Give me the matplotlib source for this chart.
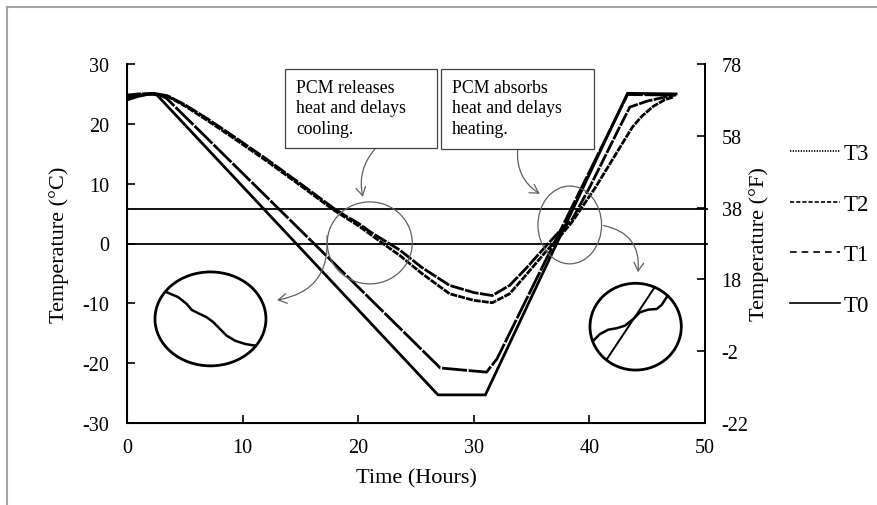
import matplotlib.pyplot as plt
from matplotlib.patches import Ellipse, Rectangle
from matplotlib.lines import Line2D

plt.rcParams['font.family'] = ['Liberation Serif', 'DejaVu Serif']
plt.rcParams['axes.unicode_minus'] = False

# ---- data ----
t0_time = [0, 1, 2.0, 2.6, 26.9, 31.0, 43.3, 47.5]
t0_temp = [24.0, 24.6, 25.0, 24.8, -25.3, -25.3, 25.1, 25.0]

t1_time = [0, 1.5, 2.6, 3.4, 27.1, 31.1, 32.0, 43.3, 47.5]
t1_temp = [24.6, 24.9, 25.0, 24.3, -20.8, -21.5, -19.3, 24.9, 24.8]

t2_time = [0, 1, 2.3, 3.5, 5, 7, 9, 12, 15, 17.8, 19, 20, 21, 22.5, 23.6,
           25.5, 27.9, 30, 31.6, 33.1, 34.5, 36.3, 37.3, 38.5, 40.0, 42.6,
           43.5, 45, 47.3]
t2_temp = [24.8, 25.0, 25.1, 24.7, 23.2, 20.8, 18.2, 14.2, 10.0, 6.0, 4.5,
           3.4, 2.0, 0.2, -1.1, -4.0, -7.0, -8.2, -8.7, -7.0, -4.2, -0.3,
           1.8, 4.0, 9.3, 19.4, 22.8, 23.8, 24.8]

t3_time = [0, 1, 2.3, 3.5, 5, 7, 9, 12, 15, 17.8, 19, 20, 21, 22.5, 23.6,
           25.5, 27.9, 30, 31.6, 33.1, 34.5, 36.3, 37.5, 38.5, 40.5, 43.7,
           44.5, 45.5, 46.5, 47.3]
t3_temp = [24.3, 24.8, 25.0, 24.6, 23.0, 20.5, 17.9, 13.9, 9.7, 5.7, 4.2,
           3.0, 1.6, -0.5, -2.0, -5.0, -8.4, -9.5, -9.9, -8.4, -5.3, -1.2,
           1.3, 3.6, 9.3, 19.4, 21.2, 22.9, 24.0, 24.5]

series_names = ['T0', 'T1', 'T2', 'T3']
series_styles = ['-', (0, (9, 0.6)), (0, (5, 0.5)), (0, (2.5, 0.4))]
legend_styles = ['-', (0, (4, 3)), (0, (2.5, 1.2)), (0, (0.8, 0.8))]

ref_lines = [0.0, 5.7]   # 0 degC and PCM melting level

x_ticks = [0, 10, 20, 30, 40, 50]
c_ticks = [-30, -20, -10, 0, 10, 20, 30]
f_ticks = [-22, -2, 18, 38, 58, 78]

FS = 14.5
LFS = 16

fig = plt.figure(figsize=(8.78, 5.06), dpi=100)
ax = fig.add_axes([127 / 878, 1 - 424 / 506, 578 / 878, 359 / 506])

data = [(t0_time, t0_temp), (t1_time, t1_temp), (t2_time, t2_temp), (t3_time, t3_temp)]
for (tt, vv), ls in zip(data, series_styles):
    ax.plot(tt, vv, color='black', lw=2.0, linestyle=ls, solid_joinstyle='miter')

for y in ref_lines:
    ax.axhline(y, xmin=0, xmax=1.004, color='black', lw=1.3, clip_on=False)

ax.set_xlim(0, 50)
ax.set_ylim(-30, 30)
ax.set_xticks(x_ticks)
ax.set_yticks(c_ticks)
ax.spines['top'].set_visible(False)
for s in ['left', 'bottom', 'right']:
    ax.spines[s].set_linewidth(1.4)
ax.tick_params(direction='in', length=6, width=1.2, labelsize=FS)
ax.tick_params(axis='y', pad=13)
ax.tick_params(axis='x', pad=11)
ax.set_xlabel('Time (Hours)', fontsize=LFS)
ax.set_ylabel('Temperature (°C)', fontsize=LFS)
ax.xaxis.set_label_coords(0.5, -0.125)
ax.yaxis.set_label_coords(-0.10, 0.5)

ax2 = ax.twinx()
ax2.set_ylim(-22, 78)
ax2.set_yticks(f_ticks)
ax2.spines['top'].set_visible(False)
ax2.spines['right'].set_linewidth(1.4)
ax2.tick_params(direction='in', length=6, width=1.2, labelsize=FS, pad=12)
ax2.set_ylabel('Temperature (°F)', fontsize=LFS)
ax2.yaxis.set_label_coords(1.077, 0.5)

# ---- callouts ----
gray = '#606060'
ax.add_patch(Ellipse((21.0, 0.1), 7.35, 13.7, fill=False, ec=gray, lw=0.9, zorder=5))
ax.add_patch(Ellipse((38.3, 3.1), 5.5, 13.0, fill=False, ec=gray, lw=0.9, zorder=5))

# magnified insets
ax.add_patch(Ellipse((7.22, -12.6), 9.6, 15.7, fill=False, ec='black', lw=2.0, zorder=5))
ax.add_patch(Ellipse((44.0, -13.9), 7.9, 14.5, fill=False, ec='black', lw=2.0, zorder=5))
left_zoom_t = [3.43, 4.44, 5.16, 5.60, 6.17, 6.89, 7.47, 8.04, 8.62, 9.34, 10.21, 11.07]
left_zoom_v = [-8.14, -8.98, -10.10, -11.10, -11.66, -12.32, -13.16, -14.28, -15.40,
               -16.24, -16.79, -17.07]
ax.plot(left_zoom_t, left_zoom_v, color='black', lw=1.8, zorder=5)
right_zoom_t = [40.34, 40.92, 41.64, 42.36, 43.08, 43.80, 44.38, 45.10, 45.82, 46.25, 46.68]
right_zoom_v = [-16.24, -15.12, -14.40, -14.16, -13.73, -12.61, -11.49, -11.05, -10.94,
                -10.27, -8.98]
ax.plot(right_zoom_t, right_zoom_v, color='black', lw=1.8, zorder=5)
ax.plot([41.52, 45.67], [-19.3, -7.25], color='black', lw=1.4, zorder=5)

arrow = dict(arrowstyle='->,head_length=0.6,head_width=0.35', color=gray, lw=0.9,
             shrinkA=0, shrinkB=0)
ax.annotate('', xy=(12.98, -9.47), xytext=(17.3, 1.27),
            arrowprops=dict(arrow, connectionstyle='arc3,rad=-0.45'))
ax.annotate('', xy=(44.2, -4.8), xytext=(41.2, 3.0),
            arrowprops=dict(arrow, connectionstyle='arc3,rad=-0.45'))
ax.annotate('', xy=(20.4, 7.8), xytext=(21.45, 15.8),
            arrowprops=dict(arrow, connectionstyle='arc3,rad=0.25'))
ax.annotate('', xy=(35.7, 8.3), xytext=(33.8, 15.8),
            arrowprops=dict(arrow, connectionstyle='arc3,rad=0.3'))

# text boxes
for x0, y0, w, h, txt in [(285, 70, 152, 79, 'PCM releases\nheat and delays\ncooling.'),
                          (441, 70, 153, 80, 'PCM absorbs\nheat and delays\nheating.')]:
    fig.add_artist(Rectangle((x0 / 878, 1 - (y0 + h) / 506), w / 878, h / 506,
                             transform=fig.transFigure, fc='white', ec='#404040',
                             lw=0.9, zorder=10))
    fig.text((x0 + 11) / 878, 1 - (y0 + 10) / 506, txt, fontsize=12.8, va='top',
             ha='left', linespacing=1.25, zorder=11)

# legend
handles = [Line2D([], [], color='black', lw=1.2, linestyle=ls) for ls in legend_styles]
fig.legend(handles[::-1], series_names[::-1], loc='upper left',
           bbox_to_anchor=(790 / 878, 1 - 144 / 506), frameon=False, fontsize=16.5,
           borderpad=0, borderaxespad=0, handlelength=2.2, handletextpad=0.15,
           labelspacing=1.29)

# gray page frame
fig.add_artist(Line2D([7 / 878, 1], [1 - 8 / 506, 1 - 8 / 506], transform=fig.transFigure,
                      color='#a6a6a6', lw=1.5))
fig.add_artist(Line2D([7 / 878, 7 / 878], [0, 1 - 8 / 506], transform=fig.transFigure,
                      color='#a6a6a6', lw=1.5))

fig.savefig('out.png', dpi=100)
